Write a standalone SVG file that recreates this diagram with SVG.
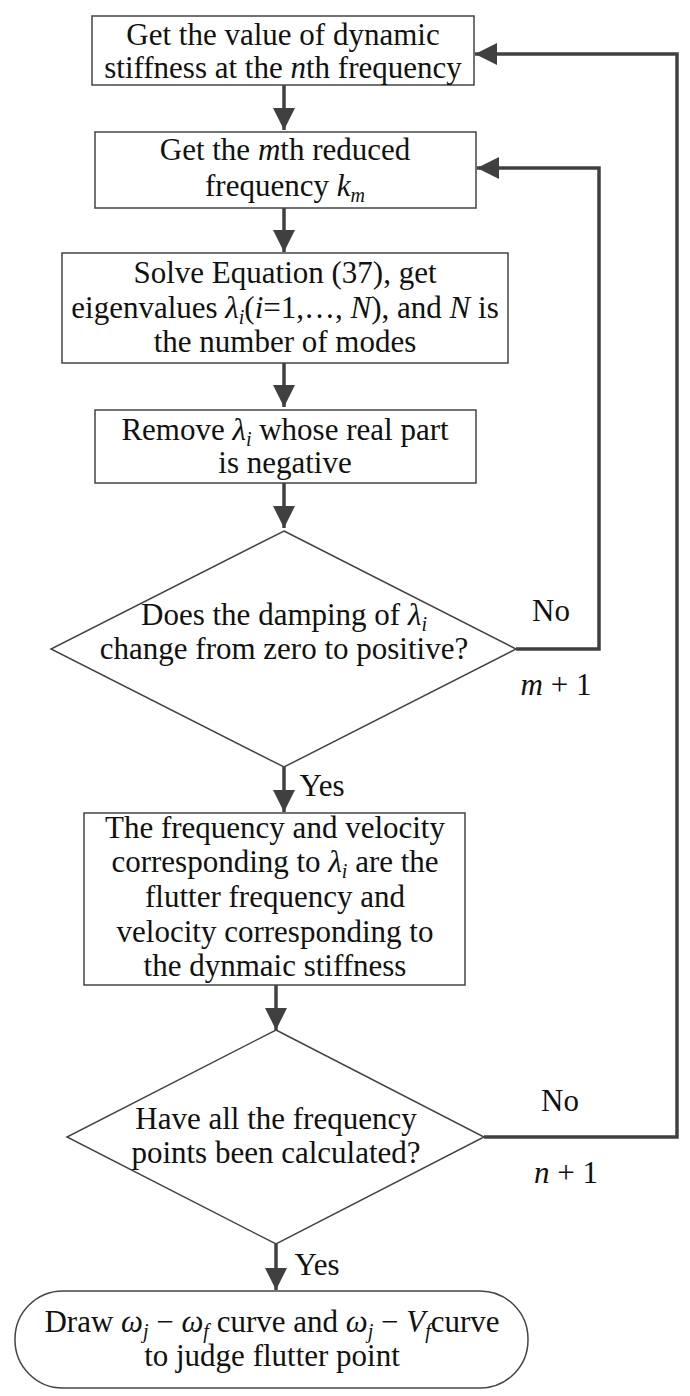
<svg xmlns="http://www.w3.org/2000/svg" width="690" height="1396" viewBox="0 0 690 1396">
<style>
text{font-family:"Liberation Serif",serif;font-size:31px;fill:#111;text-anchor:middle}
.i{font-style:italic}
.s{font-size:20px;font-style:italic}
.n{fill:#fff;stroke:#444;stroke-width:1.5}
.c{fill:none;stroke:#404040;stroke-width:3.5}
</style>
<defs>
<marker id="b" viewBox="0 0 10 10" refX="10" refY="5" markerWidth="22" markerHeight="22" orient="auto" markerUnits="userSpaceOnUse"><path d="M0,0L10,5L0,10z" fill="#404040"/></marker></defs>
<g id="connectors">
<path class="c" d="M284,85V130" marker-end="url(#b)"/>
<path class="c" d="M284,208V252" marker-end="url(#b)"/>
<path class="c" d="M284,363V407" marker-end="url(#b)"/>
<path class="c" d="M284,483V528" marker-end="url(#b)"/>
<path class="c" d="M284,767V812" marker-end="url(#b)"/>
<path class="c" d="M276,985V1030" marker-end="url(#b)"/>
<path class="c" d="M276,1244V1290" marker-end="url(#b)"/>
<path class="c" d="M516,649H599V168H477" marker-end="url(#b)"/>
<path class="c" d="M484,1137H677V54H475" marker-end="url(#b)"/>
<text x="551" y="621">No</text>
<text x="556" y="695"><tspan class="i">m</tspan> + 1</text>
<text x="322" y="796">Yes</text>
<text x="560" y="1111">No</text>
<text x="566" y="1183"><tspan class="i">n</tspan> + 1</text>
<text x="317" y="1275">Yes</text>
</g>
<g id="n1"><rect class="n" x="92" y="16" width="382" height="69"/>
<text x="283" y="45">Get the value of dynamic</text>
<text x="283" y="78">stiffness at the <tspan class="i">n</tspan>th frequency</text></g>
<g id="n2"><rect class="n" x="95" y="132" width="381" height="76"/>
<text x="285" y="160">Get the <tspan class="i">m</tspan>th reduced</text>
<text x="285" y="196">frequency <tspan class="i">k</tspan><tspan class="s" dy="6">m</tspan></text></g>
<g id="n3"><rect class="n" x="62" y="253" width="446" height="110"/>
<text x="285" y="283">Solve Equation (37), get</text>
<text x="285" y="318">eigenvalues <tspan class="i">λ</tspan><tspan class="s" dy="6">i</tspan><tspan dy="-6">(</tspan><tspan class="i">i</tspan>=1,…, <tspan class="i">N</tspan>), and <tspan class="i">N</tspan> is</text>
<text x="285" y="352">the number of modes</text></g>
<g id="n4"><rect class="n" x="95" y="410" width="381" height="73"/>
<text x="285" y="440">Remove <tspan class="i">λ</tspan><tspan class="s" dy="6">i</tspan><tspan dy="-6"> whose real part</tspan></text>
<text x="285" y="473">is negative</text></g>
<g id="n5"><polygon class="n" points="284,531 516,649 284,767 51,649"/>
<text x="284" y="625">Does the damping of <tspan class="i">λ</tspan><tspan class="s" dy="6">i</tspan></text>
<text x="284" y="659">change from zero to positive?</text></g>
<g id="n6"><rect class="n" x="84" y="813" width="381" height="172"/>
<text x="275" y="838">The frequency and velocity</text>
<text x="275" y="872">corresponding to <tspan class="i">λ</tspan><tspan class="s" dy="6">i</tspan><tspan dy="-6"> are the</tspan></text>
<text x="275" y="907">flutter frequency and</text>
<text x="275" y="942">velocity corresponding to</text>
<text x="275" y="976">the dynmaic stiffness</text></g>
<g id="n7"><polygon class="n" points="276,1030 484,1137 276,1244 67,1137"/>
<text x="276" y="1129">Have all the frequency</text>
<text x="276" y="1163">points been calculated?</text></g>
<g id="n8"><rect class="n" x="15" y="1291" width="513" height="97" rx="48"/>
<text x="272" y="1332">Draw <tspan class="i">ω</tspan><tspan class="s" dy="6">j</tspan><tspan dy="-6"> − </tspan><tspan class="i">ω</tspan><tspan class="s" dy="6">f</tspan><tspan dy="-6"> curve and </tspan><tspan class="i">ω</tspan><tspan class="s" dy="6">j</tspan><tspan dy="-6"> − </tspan><tspan class="i">V</tspan><tspan class="s" dy="6">f</tspan><tspan dy="-6">curve</tspan></text>
<text x="272" y="1366">to judge flutter point</text></g>
</svg>
